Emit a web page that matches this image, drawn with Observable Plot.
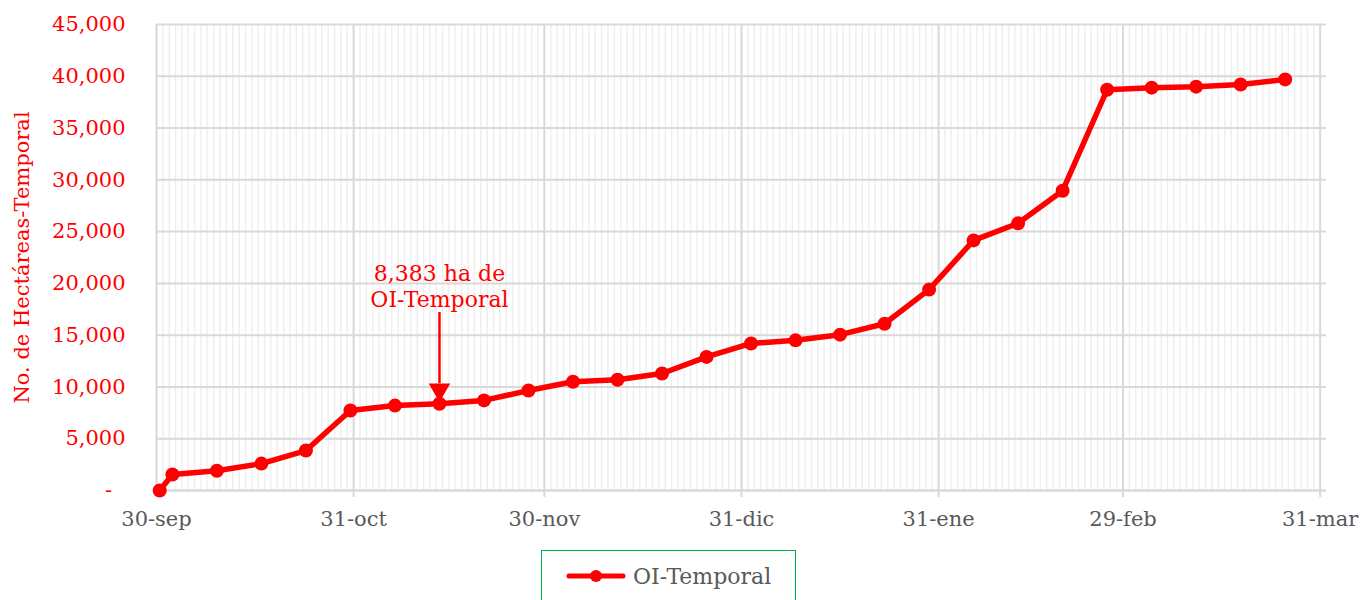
<!DOCTYPE html>
<html><head><meta charset="utf-8">
<script src="https://cdn.jsdelivr.net/npm/d3@7"></script>
<script src="https://cdn.jsdelivr.net/npm/@observablehq/plot@0.6"></script>
<style>
body{margin:0;background:#fff;font-family:"DejaVu Serif",serif;}
#wrap{position:relative;width:1362px;height:600px;overflow:hidden;}
#legend{position:absolute;left:541px;top:550px;width:255px;height:70px;border:1.5px solid #00b050;box-sizing:border-box;}
#legend svg{position:absolute;left:0;top:0;}
</style></head><body>
<div id="wrap"><div id="chart"></div><div id="legend"></div></div>
<script>
const dates = ["2023-09-30","2023-10-02","2023-10-09","2023-10-16","2023-10-23","2023-10-30","2023-11-06","2023-11-13","2023-11-20","2023-11-27","2023-12-04","2023-12-11","2023-12-18","2023-12-25","2024-01-01","2024-01-08","2024-01-15","2024-01-22","2024-01-29","2024-02-05","2024-02-12","2024-02-19","2024-02-26","2024-03-04","2024-03-11","2024-03-18","2024-03-25"];
const values = [0,1550,1900,2600,3860,7720,8200,8383,8700,9650,10500,10700,11300,12900,14200,14500,15050,16100,19400,24150,25800,28950,38700,38900,39000,39200,39700];
const seriesName = "OI-Temporal";
const tickDates = ["2023-09-30","2023-10-31","2023-11-30","2023-12-31","2024-01-31","2024-02-29","2024-03-31"];
const tickLabels = ["30-sep","31-oct","30-nov","31-dic","31-ene","29-feb","31-mar"];
const yTicks = [0,5000,10000,15000,20000,25000,30000,35000,40000,45000];
const yLabel = "No. de Hectáreas-Temporal";
const annotation = {date:"2023-11-13", value:8383, text:"8,383 ha de\nOI-Temporal"};

const parse = d3.utcParse("%Y-%m-%d");
const data = dates.map((d,i)=>({date: d3.utcHour.offset(parse(d),12), value: values[i]}));
const xStart = parse("2023-09-30"), xEnd = parse("2024-04-01");
const tickDs = tickDates.map(parse);
const labelMap = new Map(tickDs.map((d,i)=>[+d, tickLabels[i]]));
const days = d3.utcDay.range(xStart, xEnd);
const ann = {date: d3.utcHour.offset(parse(annotation.date),12), value: annotation.value, text: annotation.text};
const red = "#ff0000", grey = "#595959";

const chart = Plot.plot({
  width: 1362, height: 545,
  marginLeft: 156, marginRight: 36, marginTop: 24, marginBottom: 55,
  style: {fontFamily: "DejaVu Serif, serif", fontSize: "21px", background: "#fff"},
  x: {type: "utc", domain: [xStart, xEnd]},
  y: {domain: [0, 45000]},
  marks: [
    Plot.gridX(days, {stroke: "#efefef", strokeOpacity: 1, strokeWidth: 1.5}),
    Plot.gridX(tickDs, {stroke: "#d9d9d9", strokeOpacity: 1, strokeWidth: 2}),
    Plot.gridY(yTicks, {stroke: "#d9d9d9", strokeOpacity: 1, strokeWidth: 2}),
    Plot.ruleY([0], {stroke: "#d9d9d9", strokeWidth: 2}),
    Plot.axisX(tickDs, {tickSize: 7, stroke: "#d9d9d9", strokeWidth: 2, tickPadding: 14, fill: grey, tickFormat: d => labelMap.get(+d), label: null, fontSize: 21}),
    Plot.axisY(yTicks, {tickSize: 0, tickPadding: 31, fill: red, fontSize: 21,
      tickFormat: d => d === 0 ? "-\u2007" : d3.format(",")(d),
      label: null}),
    Plot.text([yLabel], {text: d => d, frameAnchor: "left", textAnchor: "middle", rotate: -90, dx: -134, dy: 0, fill: red, fontSize: 21}),
    Plot.line(data, {x: "date", y: "value", stroke: red, strokeWidth: 5.5, curve: "linear"}),
    Plot.dot(data, {x: "date", y: "value", r: 7, fill: red}),
    Plot.ruleX([ann], {x: "date", y1: d => d.value + 8800, y2: "value", stroke: red, strokeWidth: 2.5, insetBottom: 20}),
    Plot.dot([ann], {x: "date", y: "value", symbol: "triangle", rotate: 180, r: 8, fill: red, dy: -14}),
    Plot.text([ann], {x: "date", y: "value", text: "text", fill: red, fontSize: 22, lineHeight: 1.18, lineAnchor: "middle", dy: -118})
  ]
});
document.getElementById("chart").append(chart);

// Legend
const lg = d3.select("#legend").append("svg").attr("width",255).attr("height",70);
lg.append("line").attr("x1",27).attr("x2",81).attr("y1",25).attr("y2",25).attr("stroke",red).attr("stroke-width",5).attr("stroke-linecap","round");
lg.append("circle").attr("cx",54).attr("cy",25).attr("r",6).attr("fill",red);
lg.append("text").attr("x",91).attr("y",33).attr("fill",grey).attr("font-size",22).attr("font-family","DejaVu Serif, serif").text(seriesName);
</script>
</body></html>
